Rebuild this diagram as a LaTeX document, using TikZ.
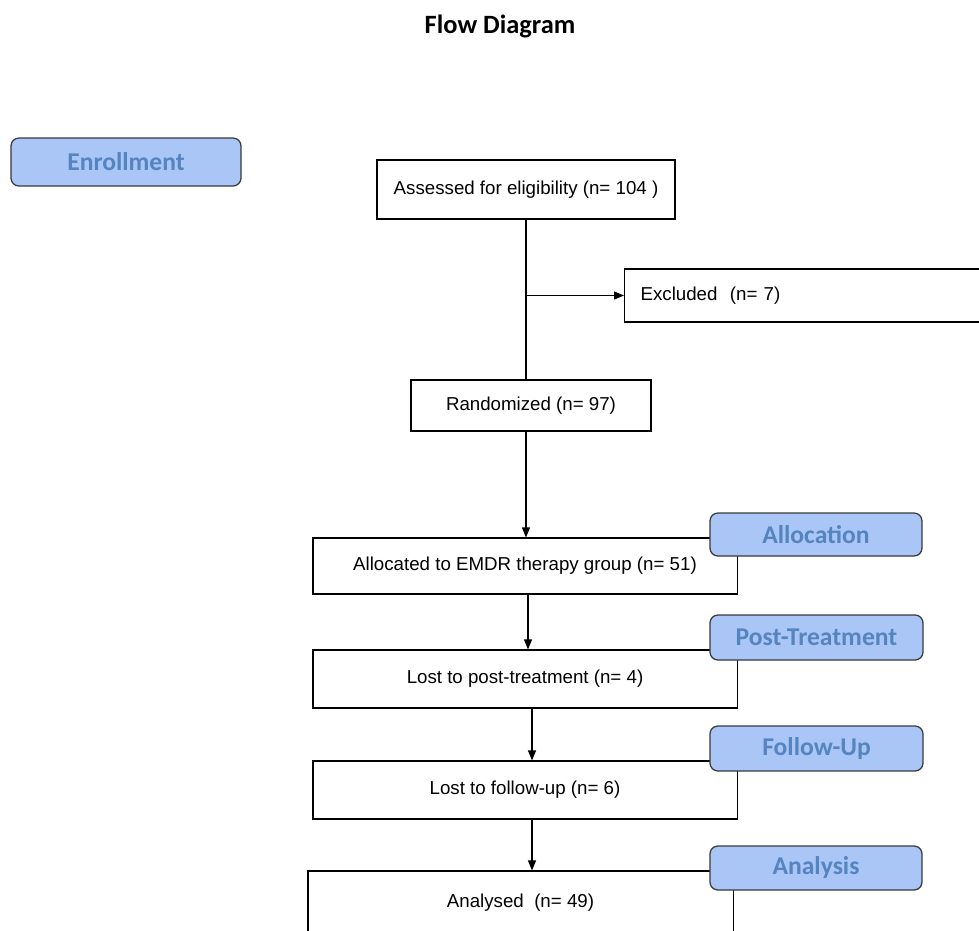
\documentclass[tikz,border=0pt]{standalone}
\usepackage{fontspec}
\setmainfont{Liberation Sans}
\newfontfamily\tagfont{Carlito}
\usetikzlibrary{arrows.meta}
\definecolor{tagfill}{HTML}{A9C6F7}
\definecolor{tagtext}{HTML}{5684BE}
\definecolor{tagline}{HTML}{3A3A3A}
\begin{document}
\begin{tikzpicture}[x=0.025cm, y=-0.025cm, % 一个单位 = 一个像素
		box/.style={draw, line width=0.8pt, fill=white, inner sep=0pt,
			font=\fontsize{13.3}{16}\selectfont},
		tag/.style={draw=tagline, line width=0.9pt, fill=tagfill, rounded corners=0.2cm,
			inner sep=0pt, text=tagtext, font=\tagfont\bfseries\fontsize{18.2}{22}\selectfont},
		arr/.style={-{Triangle[length=0.25cm, width=0.2cm]}, line width=0.8pt}]
		\useasboundingbox (0, 0) rectangle (979, 930);
		\clip (0, 0) rectangle (979, 930);
		% 标题
		\node[font=\tagfont\bfseries\fontsize{18.8}{22}\selectfont] (title) at (500, 26) {Flow Diagram};
		% 流程框
		\node[box, minimum width=7.45cm, minimum height=1.475cm] (assess) at (526, 189.5)
			{Assessed for eligibility (n= 104 )};
		\node[box, anchor=west, minimum height=1.325cm, inner xsep=0.4cm, text width=8.6cm, align=left]
			(excl) at (624, 295.5) {Excluded\ \ (n= 7)};
		\node[box, minimum width=6cm, minimum height=1.275cm] (rand) at (531, 405.5)
			{Randomized (n= 97)};
		\node[box, minimum width=10.6cm, minimum height=1.4cm] (alloc) at (525, 566)
			{Allocated to EMDR therapy group (n= 51)};
		\node[box, minimum width=10.6cm, minimum height=1.45cm] (post) at (525, 679)
			{Lost to post-treatment (n= 4)};
		\node[box, minimum width=10.6cm, minimum height=1.45cm] (fu) at (525, 790)
			{Lost to follow-up (n= 6)};
		\node[box, minimum width=10.625cm, minimum height=1.6cm] (anal) at (520.5, 903)
			{Analysed\ \ (n= 49)};
		% 连线
		\draw[line width=0.8pt] (assess.south) -- (assess.south |- rand.north);
		\draw[arr] (assess.south |- excl.west) -- (excl.west);
		\draw[arr] (assess.south |- rand.south) -- (assess.south |- alloc.north);
		\draw[arr] ([xshift=0.075cm]alloc.south) -- ([xshift=0.075cm]alloc.south |- post.north);
		\draw[arr] ([xshift=0.175cm]post.south) -- ([xshift=0.175cm]post.south |- fu.north);
		\draw[arr] ([xshift=0.175cm]fu.south) -- ([xshift=0.175cm]fu.south |- anal.north);
		% 左上和右侧的阶段标签
		\node[tag, minimum width=5.75cm, minimum height=1.2cm] (enroll) at (126, 162) {Enrollment};
		\node[tag, minimum width=5.3cm, minimum height=1.075cm] (allocTag) at (816, 534.5) {Allocation};
		\node[tag, minimum width=5.325cm, minimum height=1.125cm] (postTag) at (816.5, 637.5) {Post-Treatment};
		\node[tag, minimum width=5.325cm, minimum height=1.125cm] (fuTag) at (816.5, 748.5) {Follow-Up};
		\node[tag, minimum width=5.3cm, minimum height=1.1cm] (anTag) at (816, 868) {Analysis};
	\end{tikzpicture}
\end{document}
